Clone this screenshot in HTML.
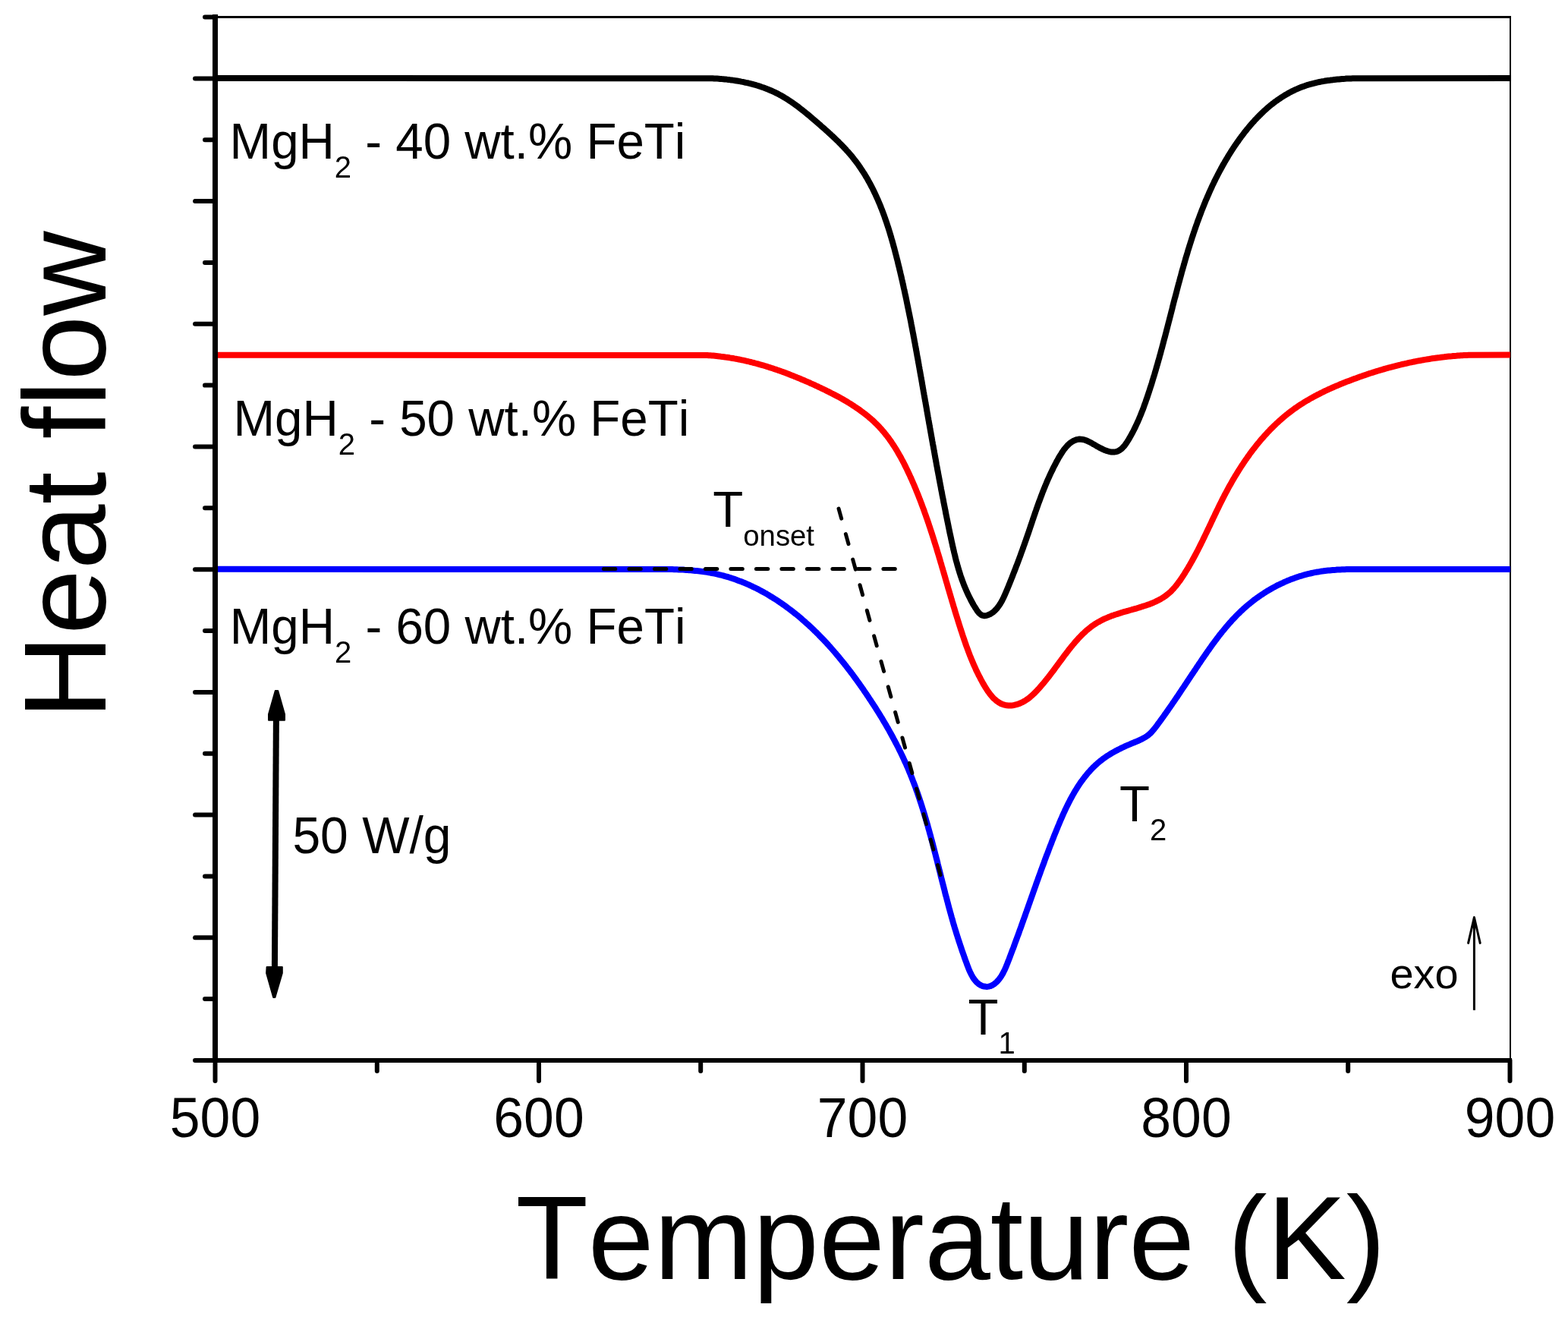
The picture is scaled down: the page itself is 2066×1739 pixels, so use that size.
<!DOCTYPE html>
<html><head><meta charset="utf-8"><title>DSC Heat flow vs Temperature</title>
<style>
html,body{margin:0;padding:0;background:#fff;}
body{width:2066px;height:1739px;overflow:hidden;}
svg{display:block;font-family:'Liberation Sans', Arial, Helvetica, sans-serif;font-variant-ligatures:none;font-kerning:none;}
</style></head>
<body>
<svg width="2066" height="1739" viewBox="0 0 2066 1739" xmlns="http://www.w3.org/2000/svg">
<rect width="2066" height="1739" fill="#fff"/>
<!-- frame -->
<line x1="283.5" y1="22.5" x2="1990" y2="22.5" stroke="#000" stroke-width="3"/>
<line x1="1990" y1="21" x2="1990" y2="1397" stroke="#000" stroke-width="2"/>
<!-- curves -->
<g fill="none" stroke-width="8" stroke-linejoin="round">
<path stroke="#000" d="M283.5,103.0 L937.0,103.2 939.0,103.2 941.0,103.4 943.0,103.5 945.0,103.6 947.0,103.7 949.0,103.9 951.0,104.1 953.0,104.2 955.0,104.4 957.0,104.6 959.0,104.9 961.0,105.1 962.9,105.4 964.9,105.6 966.9,105.9 968.9,106.2 970.9,106.5 972.8,106.8 974.8,107.2 976.8,107.6 978.7,107.9 980.7,108.3 982.6,108.8 984.6,109.2 986.5,109.7 988.5,110.1 990.4,110.6 992.4,111.1 994.3,111.7 996.2,112.2 998.1,112.8 1000.0,113.4 1001.9,114.0 1003.8,114.7 1005.7,115.3 1007.6,116.0 1009.5,116.7 1011.3,117.4 1013.2,118.2 1015.0,119.0 1016.9,119.8 1018.7,120.6 1020.5,121.4 1022.3,122.3 1024.1,123.2 1025.9,124.1 1027.6,125.1 1029.4,126.0 1031.1,127.0 1032.8,128.0 1034.6,129.1 1036.3,130.1 1038.0,131.2 1039.6,132.3 1041.3,133.4 1043.0,134.5 1044.6,135.6 1046.2,136.8 1047.9,138.0 1049.5,139.1 1051.1,140.3 1052.7,141.5 1054.3,142.8 1055.8,144.0 1057.4,145.2 1059.0,146.5 1060.5,147.7 1062.1,149.0 1063.6,150.3 1065.2,151.5 1066.7,152.8 1068.2,154.1 1069.8,155.4 1071.3,156.7 1072.8,158.0 1074.3,159.3 1075.8,160.6 1077.4,161.9 1078.9,163.2 1080.4,164.5 1081.9,165.9 1083.4,167.2 1084.9,168.5 1086.4,169.8 1087.9,171.2 1089.4,172.5 1090.9,173.8 1092.3,175.2 1093.8,176.5 1095.3,177.9 1096.8,179.2 1098.2,180.6 1099.7,182.0 1101.1,183.4 1102.6,184.8 1104.0,186.1 1105.4,187.6 1106.8,189.0 1108.2,190.4 1109.6,191.8 1111.0,193.3 1112.4,194.7 1113.8,196.2 1115.1,197.7 1116.4,199.1 1117.8,200.6 1119.1,202.1 1120.4,203.7 1121.7,205.2 1123.0,206.7 1124.2,208.3 1125.5,209.9 1126.7,211.4 1127.9,213.0 1129.1,214.6 1130.3,216.2 1131.4,217.9 1132.6,219.5 1133.7,221.2 1134.8,222.8 1135.9,224.5 1137.0,226.2 1138.1,227.8 1139.2,229.5 1140.2,231.2 1141.2,233.0 1142.3,234.7 1143.3,236.4 1144.2,238.2 1145.2,239.9 1146.2,241.7 1147.1,243.4 1148.0,245.2 1149.0,247.0 1149.9,248.8 1150.8,250.6 1151.6,252.3 1152.5,254.2 1153.4,256.0 1154.2,257.8 1155.0,259.6 1155.8,261.4 1156.7,263.3 1157.4,265.1 1158.2,266.9 1159.0,268.8 1159.8,270.6 1160.5,272.5 1161.2,274.3 1162.0,276.2 1162.7,278.1 1163.4,279.9 1164.1,281.8 1164.8,283.7 1165.5,285.6 1166.1,287.5 1166.8,289.4 1167.4,291.2 1168.1,293.1 1168.7,295.0 1169.3,296.9 1170.0,298.8 1170.6,300.7 1171.2,302.7 1171.8,304.6 1172.4,306.5 1172.9,308.4 1173.5,310.3 1174.1,312.2 1174.6,314.1 1175.2,316.1 1175.7,318.0 1176.3,319.9 1176.8,321.8 1177.3,323.8 1177.9,325.7 1178.4,327.6 1178.9,329.6 1179.4,331.5 1179.9,333.4 1180.4,335.4 1180.9,337.3 1181.4,339.3 1181.9,341.2 1182.4,343.1 1182.9,345.1 1183.3,347.0 1183.8,349.0 1184.3,350.9 1184.8,352.8 1185.2,354.8 1185.7,356.7 1186.2,358.7 1186.6,360.6 1187.1,362.6 1187.5,364.5 1188.0,366.5 1188.4,368.4 1188.9,370.4 1189.3,372.3 1189.7,374.3 1190.2,376.2 1190.6,378.2 1191.0,380.1 1191.5,382.1 1191.9,384.0 1192.3,386.0 1192.7,388.0 1193.2,389.9 1193.6,391.9 1194.0,393.8 1194.4,395.8 1194.8,397.7 1195.2,399.7 1195.6,401.7 1196.0,403.6 1196.4,405.6 1196.8,407.5 1197.2,409.5 1197.6,411.5 1198.0,413.4 1198.4,415.4 1198.8,417.3 1199.2,419.3 1199.6,421.3 1200.0,423.2 1200.4,425.2 1200.7,427.2 1201.1,429.1 1201.5,431.1 1201.9,433.1 1202.2,435.0 1202.6,437.0 1203.0,439.0 1203.4,440.9 1203.7,442.9 1204.1,444.8 1204.5,446.8 1204.8,448.8 1205.2,450.7 1205.6,452.7 1205.9,454.7 1206.3,456.6 1206.7,458.6 1207.0,460.6 1207.4,462.6 1207.7,464.5 1208.1,466.5 1208.4,468.5 1208.8,470.4 1209.2,472.4 1209.5,474.4 1209.9,476.3 1210.2,478.3 1210.6,480.3 1210.9,482.2 1211.3,484.2 1211.6,486.2 1212.0,488.2 1212.3,490.1 1212.7,492.1 1213.0,494.1 1213.4,496.0 1213.7,498.0 1214.1,500.0 1214.4,501.9 1214.8,503.9 1215.1,505.9 1215.4,507.8 1215.8,509.8 1216.1,511.8 1216.5,513.8 1216.8,515.7 1217.2,517.7 1217.5,519.7 1217.9,521.6 1218.2,523.6 1218.6,525.6 1218.9,527.6 1219.3,529.5 1219.6,531.5 1220.0,533.5 1220.3,535.4 1220.7,537.4 1221.0,539.4 1221.3,541.3 1221.7,543.3 1222.0,545.3 1222.4,547.3 1222.7,549.2 1223.1,551.2 1223.4,553.2 1223.8,555.1 1224.1,557.1 1224.5,559.1 1224.8,561.0 1225.2,563.0 1225.5,565.0 1225.9,567.0 1226.2,568.9 1226.6,570.9 1226.9,572.9 1227.3,574.8 1227.6,576.8 1228.0,578.8 1228.3,580.7 1228.7,582.7 1229.0,584.7 1229.4,586.6 1229.8,588.6 1230.1,590.6 1230.5,592.5 1230.8,594.5 1231.2,596.5 1231.5,598.5 1231.9,600.4 1232.2,602.4 1232.6,604.4 1233.0,606.3 1233.3,608.3 1233.7,610.3 1234.0,612.2 1234.4,614.2 1234.8,616.2 1235.1,618.1 1235.5,620.1 1235.9,622.1 1236.2,624.0 1236.6,626.0 1237.0,628.0 1237.3,629.9 1237.7,631.9 1238.1,633.9 1238.4,635.8 1238.8,637.8 1239.2,639.8 1239.6,641.7 1239.9,643.7 1240.3,645.7 1240.7,647.6 1241.1,649.6 1241.4,651.6 1241.8,653.5 1242.2,655.5 1242.6,657.4 1243.0,659.4 1243.3,661.4 1243.7,663.3 1244.1,665.3 1244.5,667.3 1244.9,669.2 1245.3,671.2 1245.7,673.1 1246.0,675.1 1246.4,677.1 1246.8,679.0 1247.2,681.0 1247.6,683.0 1248.0,684.9 1248.4,686.9 1248.8,688.8 1249.2,690.8 1249.6,692.8 1250.0,694.7 1250.4,696.7 1250.8,698.6 1251.2,700.6 1251.6,702.6 1252.0,704.5 1252.5,706.5 1252.9,708.4 1253.3,710.4 1253.7,712.3 1254.1,714.3 1254.6,716.2 1255.0,718.2 1255.4,720.2 1255.9,722.1 1256.3,724.1 1256.8,726.0 1257.2,727.9 1257.7,729.9 1258.2,731.8 1258.6,733.8 1259.1,735.7 1259.6,737.7 1260.1,739.6 1260.7,741.5 1261.2,743.5 1261.7,745.4 1262.3,747.3 1262.8,749.2 1263.4,751.1 1264.0,753.0 1264.6,755.0 1265.2,756.9 1265.8,758.8 1266.5,760.7 1267.1,762.5 1267.8,764.4 1268.5,766.3 1269.2,768.2 1269.9,770.1 1270.6,771.9 1271.4,773.8 1272.2,775.6 1273.0,777.5 1273.8,779.3 1274.6,781.1 1275.4,782.9 1276.3,784.7 1277.2,786.5 1278.1,788.3 1279.0,790.1 1279.9,791.9 1280.9,793.6 1281.8,795.4 1282.8,797.1 1283.9,798.8 1284.9,800.5 1286.0,802.2 1287.1,803.9 1288.2,805.5 1289.5,807.1 1290.9,808.5 1292.4,809.7 1294.2,810.7 1296.2,811.2 1298.1,811.2 1300.1,810.8 1302.0,810.2 1303.8,809.4 1305.6,808.4 1307.3,807.4 1308.9,806.2 1310.4,804.8 1311.8,803.4 1313.2,802.0 1314.4,800.4 1315.6,798.8 1316.8,797.2 1317.9,795.5 1318.9,793.8 1319.9,792.0 1320.8,790.3 1321.7,788.5 1322.6,786.7 1323.4,784.9 1324.2,783.1 1325.0,781.2 1325.8,779.4 1326.6,777.5 1327.4,775.7 1328.1,773.8 1328.9,772.0 1329.6,770.1 1330.4,768.3 1331.1,766.4 1331.9,764.6 1332.6,762.7 1333.4,760.8 1334.1,759.0 1334.8,757.1 1335.5,755.3 1336.3,753.4 1337.0,751.5 1337.7,749.7 1338.4,747.8 1339.1,745.9 1339.9,744.1 1340.6,742.2 1341.3,740.3 1342.0,738.4 1342.7,736.6 1343.4,734.7 1344.1,732.8 1344.8,730.9 1345.4,729.1 1346.1,727.2 1346.8,725.3 1347.5,723.4 1348.2,721.5 1348.8,719.6 1349.5,717.8 1350.2,715.9 1350.8,714.0 1351.5,712.1 1352.2,710.2 1352.8,708.3 1353.5,706.4 1354.1,704.5 1354.8,702.7 1355.4,700.8 1356.1,698.9 1356.7,697.0 1357.3,695.1 1358.0,693.2 1358.6,691.3 1359.3,689.4 1359.9,687.5 1360.5,685.6 1361.2,683.7 1361.8,681.8 1362.5,679.9 1363.1,678.0 1363.8,676.1 1364.4,674.2 1365.1,672.3 1365.7,670.5 1366.4,668.6 1367.1,666.7 1367.7,664.8 1368.4,662.9 1369.1,661.0 1369.8,659.2 1370.5,657.3 1371.2,655.4 1371.9,653.5 1372.6,651.7 1373.3,649.8 1374.0,647.9 1374.8,646.1 1375.5,644.2 1376.3,642.4 1377.0,640.5 1377.8,638.7 1378.6,636.8 1379.3,635.0 1380.1,633.1 1380.9,631.3 1381.8,629.5 1382.6,627.7 1383.4,625.8 1384.3,624.0 1385.1,622.2 1386.0,620.4 1386.9,618.6 1387.7,616.8 1388.6,615.0 1389.5,613.3 1390.5,611.5 1391.4,609.7 1392.3,607.9 1393.3,606.2 1394.3,604.4 1395.2,602.7 1396.3,601.0 1397.3,599.3 1398.4,597.6 1399.4,595.9 1400.6,594.2 1401.7,592.6 1403.0,591.0 1404.2,589.5 1405.5,588.0 1406.9,586.5 1408.4,585.1 1409.9,583.8 1411.5,582.6 1413.2,581.5 1414.9,580.6 1416.7,579.8 1418.7,579.2 1420.6,578.8 1422.6,578.6 1424.6,578.7 1426.6,579.0 1428.5,579.4 1430.4,580.0 1432.3,580.8 1434.1,581.6 1435.9,582.5 1437.7,583.4 1439.4,584.4 1441.2,585.4 1442.9,586.4 1444.6,587.4 1446.4,588.4 1448.1,589.4 1449.9,590.3 1451.7,591.2 1453.5,592.1 1455.3,592.9 1457.2,593.6 1459.1,594.2 1461.0,594.8 1462.9,595.2 1464.9,595.5 1466.9,595.5 1468.9,595.4 1470.9,595.1 1472.8,594.4 1474.6,593.5 1476.2,592.4 1477.8,591.2 1479.2,589.8 1480.6,588.3 1481.9,586.8 1483.1,585.2 1484.2,583.6 1485.3,581.9 1486.4,580.2 1487.4,578.5 1488.4,576.7 1489.4,575.0 1490.4,573.3 1491.3,571.5 1492.3,569.7 1493.2,568.0 1494.1,566.2 1495.0,564.4 1495.9,562.6 1496.7,560.8 1497.6,559.0 1498.4,557.2 1499.3,555.3 1500.1,553.5 1500.9,551.7 1501.6,549.8 1502.4,548.0 1503.2,546.1 1503.9,544.3 1504.6,542.4 1505.4,540.5 1506.1,538.7 1506.8,536.8 1507.5,534.9 1508.1,533.0 1508.8,531.2 1509.5,529.3 1510.1,527.4 1510.8,525.5 1511.5,523.6 1512.1,521.7 1512.7,519.8 1513.4,517.9 1514.0,516.0 1514.6,514.1 1515.2,512.2 1515.8,510.3 1516.5,508.4 1517.1,506.5 1517.7,504.6 1518.2,502.7 1518.8,500.8 1519.4,498.9 1520.0,496.9 1520.6,495.0 1521.2,493.1 1521.7,491.2 1522.3,489.3 1522.9,487.4 1523.4,485.4 1524.0,483.5 1524.5,481.6 1525.1,479.7 1525.6,477.7 1526.2,475.8 1526.7,473.9 1527.3,472.0 1527.8,470.0 1528.3,468.1 1528.9,466.2 1529.4,464.2 1529.9,462.3 1530.4,460.4 1531.0,458.5 1531.5,456.5 1532.0,454.6 1532.5,452.7 1533.0,450.7 1533.5,448.8 1534.0,446.9 1534.6,444.9 1535.1,443.0 1535.6,441.1 1536.1,439.1 1536.6,437.2 1537.1,435.2 1537.6,433.3 1538.1,431.4 1538.6,429.4 1539.1,427.5 1539.6,425.6 1540.1,423.6 1540.6,421.7 1541.1,419.7 1541.6,417.8 1542.1,415.9 1542.6,413.9 1543.1,412.0 1543.6,410.1 1544.1,408.1 1544.6,406.2 1545.0,404.2 1545.5,402.3 1546.0,400.4 1546.5,398.4 1547.0,396.5 1547.5,394.6 1548.0,392.6 1548.6,390.7 1549.1,388.8 1549.6,386.8 1550.1,384.9 1550.6,382.9 1551.1,381.0 1551.6,379.1 1552.1,377.1 1552.6,375.2 1553.1,373.3 1553.7,371.3 1554.2,369.4 1554.7,367.5 1555.2,365.6 1555.8,363.6 1556.3,361.7 1556.8,359.8 1557.3,357.8 1557.9,355.9 1558.4,354.0 1559.0,352.1 1559.5,350.1 1560.1,348.2 1560.6,346.3 1561.2,344.4 1561.7,342.4 1562.3,340.5 1562.8,338.6 1563.4,336.7 1564.0,334.8 1564.6,332.9 1565.1,330.9 1565.7,329.0 1566.3,327.1 1566.9,325.2 1567.5,323.3 1568.1,321.4 1568.7,319.5 1569.3,317.6 1569.9,315.7 1570.5,313.8 1571.1,311.9 1571.8,310.0 1572.4,308.1 1573.0,306.2 1573.7,304.3 1574.3,302.4 1575.0,300.5 1575.6,298.6 1576.3,296.7 1577.0,294.8 1577.6,292.9 1578.3,291.0 1579.0,289.2 1579.7,287.3 1580.4,285.4 1581.1,283.5 1581.8,281.7 1582.5,279.8 1583.2,277.9 1583.9,276.1 1584.7,274.2 1585.4,272.4 1586.2,270.5 1586.9,268.6 1587.7,266.8 1588.4,264.9 1589.2,263.1 1590.0,261.3 1590.8,259.4 1591.6,257.6 1592.4,255.8 1593.2,253.9 1594.0,252.1 1594.8,250.3 1595.7,248.5 1596.5,246.6 1597.3,244.8 1598.2,243.0 1599.1,241.2 1599.9,239.4 1600.8,237.6 1601.7,235.8 1602.6,234.0 1603.5,232.3 1604.4,230.5 1605.3,228.7 1606.3,226.9 1607.2,225.2 1608.2,223.4 1609.1,221.6 1610.1,219.9 1611.0,218.1 1612.0,216.4 1613.0,214.7 1614.0,212.9 1615.0,211.2 1616.0,209.5 1617.1,207.8 1618.1,206.0 1619.1,204.3 1620.2,202.6 1621.3,200.9 1622.3,199.2 1623.4,197.6 1624.5,195.9 1625.6,194.2 1626.7,192.6 1627.8,190.9 1629.0,189.2 1630.1,187.6 1631.3,186.0 1632.4,184.3 1633.6,182.7 1634.8,181.1 1635.9,179.5 1637.2,177.9 1638.4,176.3 1639.6,174.7 1640.8,173.1 1642.1,171.6 1643.3,170.0 1644.6,168.5 1645.9,166.9 1647.2,165.4 1648.5,163.9 1649.8,162.4 1651.1,160.9 1652.5,159.4 1653.8,157.9 1655.2,156.5 1656.6,155.0 1658.0,153.6 1659.4,152.2 1660.8,150.8 1662.2,149.4 1663.7,148.0 1665.1,146.6 1666.6,145.3 1668.1,143.9 1669.6,142.6 1671.1,141.3 1672.6,140.0 1674.2,138.7 1675.7,137.5 1677.3,136.3 1678.9,135.0 1680.5,133.8 1682.1,132.7 1683.7,131.5 1685.4,130.4 1687.1,129.2 1688.7,128.1 1690.4,127.1 1692.1,126.0 1693.8,125.0 1695.6,124.0 1697.3,123.0 1699.0,122.0 1700.8,121.1 1702.6,120.2 1704.4,119.3 1706.2,118.4 1708.0,117.6 1709.8,116.8 1711.7,116.0 1713.5,115.3 1715.4,114.5 1717.3,113.9 1719.2,113.2 1721.1,112.5 1723.0,111.9 1724.9,111.4 1726.8,110.8 1728.7,110.3 1730.7,109.8 1732.6,109.3 1734.6,108.8 1736.5,108.4 1738.5,108.0 1740.4,107.6 1742.4,107.2 1744.4,106.9 1746.3,106.5 1748.3,106.2 1750.3,105.9 1752.3,105.7 1754.3,105.4 1756.2,105.2 1758.2,104.9 1760.2,104.7 1762.2,104.5 1764.2,104.4 1766.2,104.2 1768.2,104.0 1770.2,103.9 1772.2,103.8 1774.2,103.6 1776.2,103.5 1778.2,103.4 1780.2,103.4 1782.2,103.3 1784.2,103.2 1786.2,103.2 1990.0,103.0"/>
<path stroke="#ff0000" d="M283.5,467.7 L931.9,468.0 933.9,468.2 935.9,468.3 937.9,468.4 939.9,468.6 941.9,468.8 943.9,469.0 945.9,469.2 947.9,469.4 949.9,469.7 951.8,469.9 953.8,470.2 955.8,470.5 957.8,470.7 959.8,471.0 961.7,471.4 963.7,471.7 965.7,472.0 967.7,472.4 969.6,472.7 971.6,473.1 973.6,473.5 975.5,473.9 977.5,474.3 979.4,474.7 981.4,475.1 983.4,475.6 985.3,476.0 987.2,476.5 989.2,477.0 991.1,477.5 993.1,478.0 995.0,478.5 996.9,479.0 998.9,479.5 1000.8,480.1 1002.7,480.6 1004.6,481.2 1006.6,481.7 1008.5,482.3 1010.4,482.9 1012.3,483.5 1014.2,484.1 1016.1,484.7 1018.0,485.3 1019.9,486.0 1021.8,486.6 1023.7,487.3 1025.6,487.9 1027.5,488.6 1029.4,489.3 1031.3,489.9 1033.1,490.6 1035.0,491.3 1036.9,492.0 1038.8,492.7 1040.6,493.5 1042.5,494.2 1044.4,494.9 1046.2,495.7 1048.1,496.4 1049.9,497.2 1051.8,497.9 1053.6,498.7 1055.5,499.5 1057.3,500.3 1059.2,501.0 1061.0,501.8 1062.8,502.6 1064.7,503.4 1066.5,504.2 1068.3,505.1 1070.2,505.9 1072.0,506.7 1073.8,507.5 1075.6,508.4 1077.4,509.2 1079.2,510.1 1081.1,510.9 1082.9,511.8 1084.7,512.6 1086.5,513.5 1088.3,514.4 1090.1,515.3 1091.9,516.2 1093.7,517.1 1095.4,518.0 1097.2,518.9 1099.0,519.8 1100.8,520.7 1102.5,521.7 1104.3,522.6 1106.1,523.6 1107.8,524.5 1109.6,525.5 1111.3,526.5 1113.0,527.5 1114.8,528.5 1116.5,529.5 1118.2,530.6 1119.9,531.6 1121.6,532.7 1123.3,533.8 1125.0,534.9 1126.6,536.0 1128.3,537.1 1129.9,538.2 1131.6,539.3 1133.2,540.5 1134.8,541.7 1136.5,542.9 1138.0,544.1 1139.6,545.3 1141.2,546.5 1142.8,547.8 1144.3,549.1 1145.8,550.4 1147.4,551.7 1148.9,553.0 1150.3,554.3 1151.8,555.7 1153.2,557.1 1154.7,558.5 1156.1,559.9 1157.5,561.3 1158.9,562.8 1160.2,564.3 1161.6,565.8 1162.9,567.3 1164.2,568.8 1165.4,570.3 1166.7,571.9 1167.9,573.5 1169.2,575.0 1170.4,576.6 1171.6,578.3 1172.7,579.9 1173.9,581.5 1175.0,583.2 1176.1,584.8 1177.2,586.5 1178.3,588.2 1179.4,589.9 1180.5,591.6 1181.5,593.3 1182.5,595.0 1183.5,596.7 1184.5,598.5 1185.5,600.2 1186.5,601.9 1187.5,603.7 1188.4,605.5 1189.3,607.2 1190.3,609.0 1191.2,610.8 1192.1,612.6 1193.0,614.4 1193.9,616.2 1194.8,618.0 1195.6,619.8 1196.5,621.6 1197.3,623.4 1198.2,625.2 1199.0,627.0 1199.8,628.8 1200.7,630.7 1201.5,632.5 1202.3,634.3 1203.1,636.2 1203.9,638.0 1204.7,639.8 1205.4,641.7 1206.2,643.5 1207.0,645.4 1207.7,647.2 1208.5,649.1 1209.2,650.9 1210.0,652.8 1210.7,654.7 1211.4,656.5 1212.2,658.4 1212.9,660.3 1213.6,662.1 1214.3,664.0 1215.0,665.9 1215.7,667.8 1216.4,669.6 1217.1,671.5 1217.8,673.4 1218.4,675.3 1219.1,677.2 1219.8,679.1 1220.4,680.9 1221.1,682.8 1221.8,684.7 1222.4,686.6 1223.1,688.5 1223.7,690.4 1224.3,692.3 1225.0,694.2 1225.6,696.1 1226.2,698.0 1226.8,699.9 1227.5,701.8 1228.1,703.7 1228.7,705.6 1229.3,707.5 1229.9,709.4 1230.5,711.4 1231.1,713.3 1231.7,715.2 1232.3,717.1 1232.9,719.0 1233.5,720.9 1234.1,722.8 1234.6,724.7 1235.2,726.7 1235.8,728.6 1236.4,730.5 1237.0,732.4 1237.5,734.3 1238.1,736.2 1238.7,738.2 1239.2,740.1 1239.8,742.0 1240.4,743.9 1240.9,745.8 1241.5,747.8 1242.1,749.7 1242.6,751.6 1243.2,753.5 1243.7,755.4 1244.3,757.4 1244.9,759.3 1245.4,761.2 1246.0,763.1 1246.5,765.1 1247.1,767.0 1247.7,768.9 1248.2,770.8 1248.8,772.7 1249.3,774.7 1249.9,776.6 1250.5,778.5 1251.0,780.4 1251.6,782.4 1252.2,784.3 1252.7,786.2 1253.3,788.1 1253.9,790.0 1254.4,792.0 1255.0,793.9 1255.6,795.8 1256.1,797.7 1256.7,799.6 1257.3,801.5 1257.9,803.5 1258.4,805.4 1259.0,807.3 1259.6,809.2 1260.2,811.1 1260.8,813.0 1261.4,814.9 1262.0,816.9 1262.6,818.8 1263.2,820.7 1263.8,822.6 1264.4,824.5 1265.0,826.4 1265.6,828.3 1266.2,830.2 1266.9,832.1 1267.5,834.0 1268.1,835.9 1268.7,837.8 1269.4,839.7 1270.0,841.6 1270.7,843.5 1271.3,845.4 1272.0,847.3 1272.6,849.2 1273.3,851.1 1274.0,852.9 1274.7,854.8 1275.4,856.7 1276.1,858.6 1276.8,860.4 1277.5,862.3 1278.2,864.2 1279.0,866.0 1279.7,867.9 1280.5,869.7 1281.3,871.6 1282.1,873.4 1282.8,875.3 1283.7,877.1 1284.5,878.9 1285.3,880.7 1286.1,882.6 1287.0,884.4 1287.9,886.2 1288.8,888.0 1289.6,889.8 1290.6,891.5 1291.5,893.3 1292.4,895.1 1293.4,896.9 1294.3,898.6 1295.3,900.4 1296.3,902.1 1297.3,903.8 1298.3,905.5 1299.4,907.2 1300.5,908.9 1301.6,910.6 1302.8,912.2 1304.0,913.8 1305.2,915.4 1306.5,916.9 1307.8,918.4 1309.2,919.9 1310.7,921.2 1312.2,922.6 1313.7,923.8 1315.4,925.0 1317.1,926.0 1318.8,927.0 1320.7,927.8 1322.6,928.4 1324.5,928.9 1326.5,929.3 1328.5,929.4 1330.5,929.5 1332.5,929.4 1334.5,929.2 1336.4,928.9 1338.4,928.4 1340.3,927.9 1342.2,927.3 1344.1,926.5 1345.9,925.7 1347.7,924.8 1349.4,923.9 1351.2,922.8 1352.8,921.7 1354.5,920.6 1356.1,919.3 1357.6,918.1 1359.1,916.8 1360.6,915.4 1362.1,914.1 1363.5,912.7 1364.9,911.2 1366.3,909.8 1367.7,908.3 1369.0,906.9 1370.3,905.4 1371.6,903.8 1373.0,902.3 1374.2,900.8 1375.5,899.3 1376.8,897.7 1378.1,896.2 1379.3,894.6 1380.6,893.0 1381.8,891.5 1383.0,889.9 1384.2,888.3 1385.4,886.7 1386.7,885.1 1387.9,883.5 1389.1,881.9 1390.2,880.3 1391.4,878.7 1392.6,877.1 1393.8,875.5 1395.0,873.8 1396.2,872.2 1397.4,870.6 1398.6,869.0 1399.8,867.4 1400.9,865.8 1402.1,864.2 1403.3,862.6 1404.6,861.0 1405.8,859.4 1407.0,857.8 1408.2,856.2 1409.5,854.7 1410.7,853.1 1412.0,851.5 1413.2,850.0 1414.5,848.5 1415.8,846.9 1417.1,845.4 1418.4,843.9 1419.8,842.4 1421.1,840.9 1422.5,839.5 1423.9,838.0 1425.3,836.6 1426.7,835.2 1428.2,833.8 1429.6,832.5 1431.1,831.1 1432.6,829.8 1434.2,828.5 1435.7,827.3 1437.3,826.0 1438.9,824.8 1440.5,823.7 1442.2,822.5 1443.9,821.5 1445.6,820.4 1447.3,819.4 1449.1,818.4 1450.8,817.5 1452.6,816.6 1454.4,815.7 1456.2,814.9 1458.1,814.1 1459.9,813.3 1461.8,812.6 1463.6,811.8 1465.5,811.1 1467.4,810.5 1469.3,809.8 1471.2,809.2 1473.1,808.6 1475.0,808.0 1476.9,807.4 1478.8,806.8 1480.8,806.2 1482.7,805.7 1484.6,805.1 1486.5,804.6 1488.5,804.0 1490.4,803.5 1492.3,802.9 1494.2,802.4 1496.2,801.8 1498.1,801.3 1500.0,800.7 1501.9,800.1 1503.8,799.5 1505.7,798.9 1507.6,798.3 1509.5,797.7 1511.4,797.0 1513.3,796.4 1515.2,795.7 1517.1,794.9 1518.9,794.2 1520.8,793.4 1522.6,792.6 1524.4,791.7 1526.2,790.8 1527.9,789.9 1529.7,788.9 1531.4,787.9 1533.1,786.8 1534.8,785.7 1536.4,784.5 1538.0,783.3 1539.5,782.0 1541.0,780.7 1542.5,779.4 1543.9,777.9 1545.3,776.5 1546.7,775.0 1548.0,773.5 1549.3,772.0 1550.5,770.4 1551.7,768.8 1552.9,767.2 1554.1,765.6 1555.3,764.0 1556.4,762.3 1557.5,760.7 1558.6,759.0 1559.7,757.3 1560.8,755.6 1561.8,753.9 1562.9,752.2 1563.9,750.5 1565.0,748.8 1566.0,747.1 1567.0,745.4 1568.0,743.6 1569.0,741.9 1570.0,740.1 1571.0,738.4 1571.9,736.6 1572.9,734.9 1573.8,733.1 1574.8,731.4 1575.7,729.6 1576.7,727.8 1577.6,726.0 1578.5,724.3 1579.4,722.5 1580.3,720.7 1581.2,718.9 1582.1,717.1 1583.0,715.3 1583.9,713.5 1584.8,711.7 1585.6,709.9 1586.5,708.1 1587.4,706.3 1588.2,704.5 1589.1,702.7 1590.0,700.9 1590.8,699.1 1591.7,697.3 1592.5,695.5 1593.4,693.7 1594.3,691.9 1595.1,690.1 1596.0,688.2 1596.8,686.4 1597.7,684.6 1598.5,682.8 1599.4,681.0 1600.3,679.2 1601.1,677.4 1602.0,675.6 1602.8,673.8 1603.7,672.0 1604.6,670.2 1605.5,668.4 1606.3,666.6 1607.2,664.8 1608.1,663.0 1609.0,661.2 1609.9,659.4 1610.8,657.6 1611.7,655.8 1612.6,654.1 1613.5,652.3 1614.5,650.5 1615.4,648.7 1616.4,647.0 1617.3,645.2 1618.3,643.4 1619.2,641.7 1620.2,639.9 1621.2,638.2 1622.2,636.5 1623.1,634.7 1624.1,633.0 1625.2,631.2 1626.2,629.5 1627.2,627.8 1628.2,626.1 1629.3,624.4 1630.3,622.7 1631.4,621.0 1632.4,619.3 1633.5,617.6 1634.6,615.9 1635.7,614.2 1636.8,612.5 1637.9,610.9 1639.0,609.2 1640.1,607.6 1641.2,605.9 1642.4,604.3 1643.5,602.6 1644.7,601.0 1645.9,599.4 1647.0,597.7 1648.2,596.1 1649.4,594.5 1650.6,592.9 1651.8,591.3 1653.1,589.8 1654.3,588.2 1655.6,586.6 1656.8,585.1 1658.1,583.5 1659.4,582.0 1660.6,580.4 1661.9,578.9 1663.2,577.4 1664.6,575.9 1665.9,574.4 1667.2,572.9 1668.6,571.4 1669.9,570.0 1671.3,568.5 1672.7,567.1 1674.1,565.6 1675.5,564.2 1676.9,562.8 1678.3,561.4 1679.8,560.0 1681.2,558.6 1682.7,557.2 1684.2,555.9 1685.6,554.5 1687.1,553.2 1688.6,551.9 1690.2,550.6 1691.7,549.3 1693.2,548.0 1694.8,546.7 1696.3,545.5 1697.9,544.2 1699.5,543.0 1701.1,541.8 1702.7,540.6 1704.3,539.4 1705.9,538.2 1707.6,537.1 1709.2,536.0 1710.9,534.8 1712.5,533.7 1714.2,532.6 1715.9,531.6 1717.6,530.5 1719.3,529.4 1721.0,528.4 1722.7,527.4 1724.5,526.4 1726.2,525.4 1727.9,524.4 1729.7,523.4 1731.5,522.5 1733.2,521.5 1735.0,520.6 1736.8,519.7 1738.6,518.8 1740.3,517.9 1742.1,517.0 1743.9,516.1 1745.7,515.2 1747.5,514.4 1749.4,513.5 1751.2,512.7 1753.0,511.9 1754.8,511.0 1756.7,510.2 1758.5,509.4 1760.3,508.6 1762.2,507.9 1764.0,507.1 1765.9,506.3 1767.7,505.6 1769.6,504.8 1771.4,504.1 1773.3,503.3 1775.2,502.6 1777.0,501.9 1778.9,501.2 1780.8,500.5 1782.6,499.8 1784.5,499.1 1786.4,498.4 1788.3,497.7 1790.2,497.0 1792.1,496.3 1793.9,495.7 1795.8,495.0 1797.7,494.4 1799.6,493.7 1801.5,493.1 1803.4,492.4 1805.3,491.8 1807.2,491.2 1809.1,490.6 1811.0,490.0 1813.0,489.4 1814.9,488.8 1816.8,488.2 1818.7,487.6 1820.6,487.1 1822.5,486.5 1824.5,486.0 1826.4,485.4 1828.3,484.9 1830.2,484.3 1832.2,483.8 1834.1,483.3 1836.0,482.8 1838.0,482.3 1839.9,481.8 1841.9,481.3 1843.8,480.8 1845.8,480.4 1847.7,479.9 1849.7,479.5 1851.6,479.0 1853.6,478.6 1855.5,478.1 1857.5,477.7 1859.4,477.3 1861.4,476.9 1863.4,476.5 1865.3,476.1 1867.3,475.7 1869.2,475.3 1871.2,475.0 1873.2,474.6 1875.2,474.3 1877.1,473.9 1879.1,473.6 1881.1,473.3 1883.1,473.0 1885.0,472.6 1887.0,472.3 1889.0,472.1 1891.0,471.8 1893.0,471.5 1894.9,471.2 1896.9,471.0 1898.9,470.7 1900.9,470.5 1902.9,470.3 1904.9,470.0 1906.9,469.8 1908.9,469.6 1910.9,469.4 1912.8,469.3 1914.8,469.1 1916.8,468.9 1918.8,468.8 1920.8,468.6 1922.8,468.5 1924.8,468.3 1926.8,468.2 1928.8,468.1 1930.8,468.0 1932.8,467.9 1934.8,467.8 1990.0,467.6"/>
<path stroke="#0000ff" d="M283.5,749.8 L880.0,750.0 882.0,750.0 884.0,750.1 886.0,750.1 888.0,750.2 890.0,750.2 892.0,750.3 894.0,750.4 896.0,750.5 898.0,750.5 900.0,750.6 902.0,750.8 904.0,750.9 906.0,751.0 908.0,751.2 910.0,751.3 912.0,751.5 914.0,751.7 916.0,751.9 918.0,752.1 920.0,752.3 922.0,752.5 924.0,752.8 925.9,753.0 927.9,753.3 929.9,753.6 931.9,753.9 933.8,754.2 935.8,754.6 937.8,755.0 939.8,755.3 941.7,755.7 943.7,756.2 945.6,756.6 947.6,757.1 949.5,757.5 951.4,758.0 953.4,758.5 955.3,759.1 957.2,759.6 959.2,760.2 961.1,760.8 963.0,761.4 964.9,762.0 966.8,762.6 968.7,763.3 970.6,764.0 972.4,764.7 974.3,765.4 976.2,766.1 978.0,766.8 979.9,767.6 981.7,768.3 983.6,769.1 985.4,769.9 987.2,770.7 989.1,771.6 990.9,772.4 992.7,773.3 994.5,774.1 996.3,775.0 998.1,775.9 999.8,776.8 1001.6,777.8 1003.4,778.7 1005.1,779.7 1006.9,780.6 1008.6,781.6 1010.4,782.6 1012.1,783.6 1013.8,784.7 1015.5,785.7 1017.2,786.7 1018.9,787.8 1020.6,788.9 1022.3,789.9 1024.0,791.0 1025.6,792.1 1027.3,793.3 1029.0,794.4 1030.6,795.5 1032.2,796.7 1033.9,797.8 1035.5,799.0 1037.1,800.2 1038.7,801.4 1040.3,802.6 1041.9,803.8 1043.5,805.0 1045.1,806.2 1046.6,807.5 1048.2,808.7 1049.8,810.0 1051.3,811.2 1052.9,812.5 1054.4,813.8 1055.9,815.1 1057.4,816.4 1058.9,817.7 1060.4,819.0 1061.9,820.4 1063.4,821.7 1064.9,823.0 1066.4,824.4 1067.8,825.8 1069.3,827.1 1070.8,828.5 1072.2,829.9 1073.6,831.3 1075.1,832.7 1076.5,834.1 1077.9,835.5 1079.3,836.9 1080.7,838.4 1082.1,839.8 1083.5,841.2 1084.9,842.7 1086.3,844.1 1087.6,845.6 1089.0,847.1 1090.3,848.5 1091.7,850.0 1093.0,851.5 1094.4,853.0 1095.7,854.5 1097.0,856.0 1098.3,857.5 1099.6,859.0 1100.9,860.5 1102.2,862.1 1103.5,863.6 1104.8,865.1 1106.1,866.7 1107.3,868.2 1108.6,869.8 1109.9,871.3 1111.1,872.9 1112.4,874.4 1113.6,876.0 1114.9,877.6 1116.1,879.2 1117.3,880.7 1118.5,882.3 1119.8,883.9 1121.0,885.5 1122.2,887.1 1123.4,888.7 1124.6,890.3 1125.7,891.9 1126.9,893.5 1128.1,895.1 1129.3,896.8 1130.5,898.4 1131.6,900.0 1132.8,901.6 1133.9,903.3 1135.1,904.9 1136.2,906.6 1137.4,908.2 1138.5,909.9 1139.6,911.5 1140.8,913.2 1141.9,914.8 1143.0,916.5 1144.1,918.1 1145.2,919.8 1146.3,921.5 1147.4,923.1 1148.5,924.8 1149.6,926.5 1150.7,928.2 1151.8,929.8 1152.9,931.5 1154.0,933.2 1155.0,934.9 1156.1,936.6 1157.2,938.3 1158.2,940.0 1159.3,941.7 1160.3,943.4 1161.4,945.1 1162.4,946.8 1163.4,948.5 1164.4,950.3 1165.5,952.0 1166.5,953.7 1167.5,955.4 1168.5,957.2 1169.5,958.9 1170.5,960.6 1171.5,962.4 1172.4,964.1 1173.4,965.9 1174.4,967.6 1175.3,969.4 1176.3,971.1 1177.2,972.9 1178.2,974.7 1179.1,976.4 1180.0,978.2 1181.0,980.0 1181.9,981.8 1182.8,983.5 1183.7,985.3 1184.6,987.1 1185.5,988.9 1186.4,990.7 1187.2,992.5 1188.1,994.3 1189.0,996.1 1189.8,997.9 1190.7,999.7 1191.5,1001.6 1192.3,1003.4 1193.2,1005.2 1194.0,1007.0 1194.8,1008.9 1195.6,1010.7 1196.4,1012.5 1197.2,1014.4 1197.9,1016.2 1198.7,1018.1 1199.5,1019.9 1200.2,1021.8 1201.0,1023.6 1201.7,1025.5 1202.4,1027.3 1203.1,1029.2 1203.9,1031.1 1204.6,1033.0 1205.3,1034.8 1206.0,1036.7 1206.7,1038.6 1207.3,1040.5 1208.0,1042.3 1208.7,1044.2 1209.3,1046.1 1210.0,1048.0 1210.6,1049.9 1211.3,1051.8 1211.9,1053.7 1212.5,1055.6 1213.2,1057.5 1213.8,1059.4 1214.4,1061.3 1215.0,1063.2 1215.6,1065.1 1216.2,1067.0 1216.8,1068.9 1217.4,1070.9 1218.0,1072.8 1218.5,1074.7 1219.1,1076.6 1219.7,1078.5 1220.2,1080.4 1220.8,1082.4 1221.4,1084.3 1221.9,1086.2 1222.5,1088.1 1223.0,1090.1 1223.5,1092.0 1224.1,1093.9 1224.6,1095.8 1225.1,1097.8 1225.7,1099.7 1226.2,1101.6 1226.7,1103.6 1227.2,1105.5 1227.8,1107.4 1228.3,1109.4 1228.8,1111.3 1229.3,1113.2 1229.8,1115.2 1230.3,1117.1 1230.8,1119.0 1231.3,1121.0 1231.8,1122.9 1232.3,1124.9 1232.8,1126.8 1233.3,1128.7 1233.8,1130.7 1234.3,1132.6 1234.8,1134.5 1235.3,1136.5 1235.7,1138.4 1236.2,1140.4 1236.7,1142.3 1237.2,1144.2 1237.7,1146.2 1238.2,1148.1 1238.7,1150.1 1239.2,1152.0 1239.6,1154.0 1240.1,1155.9 1240.6,1157.8 1241.1,1159.8 1241.6,1161.7 1242.1,1163.7 1242.6,1165.6 1243.1,1167.5 1243.6,1169.5 1244.1,1171.4 1244.6,1173.4 1245.0,1175.3 1245.5,1177.2 1246.0,1179.2 1246.6,1181.1 1247.1,1183.0 1247.6,1185.0 1248.1,1186.9 1248.6,1188.8 1249.1,1190.8 1249.6,1192.7 1250.1,1194.6 1250.6,1196.6 1251.2,1198.5 1251.7,1200.4 1252.2,1202.4 1252.8,1204.3 1253.3,1206.2 1253.8,1208.1 1254.4,1210.1 1254.9,1212.0 1255.5,1213.9 1256.0,1215.8 1256.6,1217.8 1257.2,1219.7 1257.7,1221.6 1258.3,1223.5 1258.9,1225.4 1259.5,1227.3 1260.1,1229.3 1260.7,1231.2 1261.3,1233.1 1261.9,1235.0 1262.5,1236.9 1263.1,1238.8 1263.7,1240.7 1264.4,1242.6 1265.0,1244.5 1265.6,1246.4 1266.3,1248.3 1266.9,1250.2 1267.5,1252.1 1268.2,1254.0 1268.9,1255.9 1269.5,1257.7 1270.2,1259.6 1270.8,1261.5 1271.5,1263.4 1272.2,1265.3 1272.9,1267.2 1273.6,1269.0 1274.2,1270.9 1275.0,1272.8 1275.7,1274.7 1276.4,1276.5 1277.2,1278.4 1278.0,1280.2 1278.9,1282.0 1279.8,1283.8 1280.7,1285.5 1281.7,1287.3 1282.8,1289.0 1284.0,1290.6 1285.2,1292.2 1286.5,1293.7 1288.0,1295.0 1289.5,1296.3 1291.2,1297.4 1293.0,1298.3 1294.8,1299.1 1296.8,1299.6 1298.8,1299.8 1300.8,1299.9 1302.7,1299.6 1304.7,1299.2 1306.6,1298.4 1308.3,1297.5 1310.0,1296.4 1311.5,1295.2 1313.0,1293.8 1314.4,1292.4 1315.7,1290.9 1317.0,1289.3 1318.1,1287.7 1319.3,1286.0 1320.3,1284.3 1321.3,1282.6 1322.2,1280.8 1323.1,1279.0 1324.0,1277.2 1324.8,1275.4 1325.6,1273.5 1326.3,1271.7 1327.1,1269.8 1327.8,1268.0 1328.5,1266.1 1329.3,1264.2 1330.0,1262.4 1330.7,1260.5 1331.4,1258.6 1332.1,1256.8 1332.8,1254.9 1333.5,1253.0 1334.2,1251.1 1335.0,1249.3 1335.7,1247.4 1336.4,1245.5 1337.0,1243.6 1337.7,1241.8 1338.4,1239.9 1339.1,1238.0 1339.8,1236.1 1340.5,1234.2 1341.2,1232.4 1341.9,1230.5 1342.6,1228.6 1343.2,1226.7 1343.9,1224.8 1344.6,1223.0 1345.3,1221.1 1346.0,1219.2 1346.6,1217.3 1347.3,1215.4 1348.0,1213.5 1348.6,1211.7 1349.3,1209.8 1350.0,1207.9 1350.7,1206.0 1351.3,1204.1 1352.0,1202.2 1352.7,1200.3 1353.3,1198.5 1354.0,1196.6 1354.7,1194.7 1355.3,1192.8 1356.0,1190.9 1356.7,1189.0 1357.3,1187.1 1358.0,1185.3 1358.7,1183.4 1359.3,1181.5 1360.0,1179.6 1360.7,1177.7 1361.3,1175.8 1362.0,1173.9 1362.7,1172.0 1363.3,1170.2 1364.0,1168.3 1364.7,1166.4 1365.3,1164.5 1366.0,1162.6 1366.7,1160.7 1367.4,1158.9 1368.0,1157.0 1368.7,1155.1 1369.4,1153.2 1370.1,1151.3 1370.8,1149.4 1371.4,1147.6 1372.1,1145.7 1372.8,1143.8 1373.5,1141.9 1374.2,1140.0 1374.9,1138.2 1375.6,1136.3 1376.3,1134.4 1376.9,1132.5 1377.6,1130.7 1378.3,1128.8 1379.0,1126.9 1379.8,1125.0 1380.5,1123.2 1381.2,1121.3 1381.9,1119.4 1382.6,1117.6 1383.3,1115.7 1384.0,1113.8 1384.8,1112.0 1385.5,1110.1 1386.2,1108.2 1386.9,1106.4 1387.7,1104.5 1388.4,1102.6 1389.1,1100.8 1389.9,1098.9 1390.6,1097.1 1391.4,1095.2 1392.1,1093.4 1392.9,1091.5 1393.6,1089.7 1394.4,1087.8 1395.2,1086.0 1395.9,1084.1 1396.7,1082.3 1397.5,1080.4 1398.3,1078.6 1399.1,1076.8 1399.9,1074.9 1400.7,1073.1 1401.5,1071.3 1402.4,1069.5 1403.2,1067.6 1404.1,1065.8 1404.9,1064.0 1405.8,1062.2 1406.7,1060.4 1407.6,1058.6 1408.5,1056.8 1409.4,1055.1 1410.3,1053.3 1411.3,1051.5 1412.2,1049.8 1413.2,1048.0 1414.2,1046.3 1415.2,1044.5 1416.2,1042.8 1417.2,1041.1 1418.3,1039.4 1419.3,1037.7 1420.4,1036.0 1421.5,1034.3 1422.6,1032.7 1423.7,1031.0 1424.9,1029.4 1426.1,1027.8 1427.3,1026.2 1428.5,1024.6 1429.7,1023.0 1431.0,1021.4 1432.2,1019.9 1433.5,1018.4 1434.8,1016.9 1436.2,1015.4 1437.5,1013.9 1438.9,1012.5 1440.3,1011.0 1441.8,1009.6 1443.2,1008.3 1444.7,1006.9 1446.2,1005.6 1447.7,1004.3 1449.2,1003.0 1450.8,1001.8 1452.4,1000.5 1454.0,999.3 1455.6,998.2 1457.3,997.0 1458.9,995.9 1460.6,994.9 1462.3,993.8 1464.0,992.8 1465.8,991.7 1467.5,990.8 1469.3,989.8 1471.0,988.8 1472.8,987.9 1474.6,987.0 1476.4,986.1 1478.2,985.2 1480.0,984.4 1481.8,983.5 1483.6,982.7 1485.4,981.9 1487.3,981.1 1489.1,980.3 1490.9,979.5 1492.8,978.8 1494.6,978.0 1496.5,977.2 1498.3,976.5 1500.2,975.7 1502.0,974.8 1503.8,974.0 1505.6,973.1 1507.4,972.1 1509.1,971.1 1510.8,970.0 1512.4,968.9 1514.0,967.6 1515.5,966.3 1516.9,964.9 1518.2,963.4 1519.5,961.9 1520.8,960.4 1522.0,958.8 1523.3,957.2 1524.5,955.6 1525.6,954.0 1526.8,952.4 1528.0,950.8 1529.2,949.1 1530.4,947.5 1531.5,945.9 1532.7,944.3 1533.9,942.7 1535.0,941.0 1536.2,939.4 1537.3,937.8 1538.5,936.1 1539.6,934.5 1540.8,932.8 1541.9,931.2 1543.1,929.5 1544.2,927.9 1545.3,926.2 1546.5,924.6 1547.6,922.9 1548.7,921.3 1549.8,919.6 1551.0,918.0 1552.1,916.3 1553.2,914.7 1554.3,913.0 1555.4,911.3 1556.5,909.7 1557.6,908.0 1558.8,906.3 1559.9,904.7 1561.0,903.0 1562.1,901.3 1563.2,899.7 1564.3,898.0 1565.4,896.3 1566.5,894.7 1567.6,893.0 1568.7,891.3 1569.8,889.7 1570.9,888.0 1572.1,886.4 1573.2,884.7 1574.3,883.0 1575.4,881.4 1576.5,879.7 1577.6,878.0 1578.7,876.4 1579.8,874.7 1581.0,873.1 1582.1,871.4 1583.2,869.7 1584.3,868.1 1585.5,866.4 1586.6,864.8 1587.7,863.1 1588.9,861.5 1590.0,859.8 1591.1,858.2 1592.3,856.6 1593.5,854.9 1594.6,853.3 1595.8,851.7 1596.9,850.0 1598.1,848.4 1599.3,846.8 1600.5,845.2 1601.7,843.6 1602.9,842.0 1604.1,840.4 1605.3,838.8 1606.5,837.2 1607.8,835.7 1609.0,834.1 1610.2,832.5 1611.5,831.0 1612.8,829.4 1614.0,827.9 1615.3,826.3 1616.6,824.8 1617.9,823.3 1619.2,821.8 1620.6,820.3 1621.9,818.8 1623.2,817.3 1624.6,815.8 1626.0,814.4 1627.4,812.9 1628.7,811.5 1630.1,810.1 1631.6,808.7 1633.0,807.3 1634.4,805.9 1635.9,804.5 1637.4,803.1 1638.8,801.8 1640.3,800.5 1641.8,799.1 1643.4,797.8 1644.9,796.5 1646.4,795.3 1648.0,794.0 1649.5,792.8 1651.1,791.5 1652.7,790.3 1654.3,789.1 1655.9,787.9 1657.6,786.8 1659.2,785.6 1660.8,784.5 1662.5,783.4 1664.2,782.3 1665.8,781.2 1667.5,780.1 1669.2,779.0 1670.9,778.0 1672.7,777.0 1674.4,776.0 1676.1,775.0 1677.9,774.0 1679.7,773.1 1681.4,772.1 1683.2,771.2 1685.0,770.3 1686.8,769.5 1688.6,768.6 1690.4,767.8 1692.2,766.9 1694.1,766.1 1695.9,765.3 1697.8,764.6 1699.6,763.8 1701.5,763.1 1703.3,762.4 1705.2,761.7 1707.1,761.0 1709.0,760.4 1710.9,759.8 1712.8,759.1 1714.7,758.6 1716.6,758.0 1718.6,757.4 1720.5,756.9 1722.4,756.4 1724.4,755.9 1726.3,755.5 1728.3,755.0 1730.2,754.6 1732.2,754.2 1734.2,753.8 1736.1,753.5 1738.1,753.2 1740.1,752.8 1742.1,752.6 1744.0,752.3 1746.0,752.0 1748.0,751.8 1750.0,751.6 1752.0,751.4 1754.0,751.2 1756.0,751.0 1758.0,750.9 1760.0,750.8 1762.0,750.6 1764.0,750.5 1766.0,750.4 1768.0,750.3 1770.0,750.2 1772.0,750.2 1774.0,750.1 1776.0,750.1 1778.0,750.0 1780.0,750.0 1782.0,750.0 1784.0,750.0 1786.0,749.9 1788.0,749.9 1790.0,749.9 1990.0,749.9"/>
</g>
<!-- onset construction lines -->
<g stroke="#000" stroke-width="5" stroke-linecap="round" fill="none">
<line x1="795.4" y1="749.5" x2="1179.3" y2="749.5" stroke-dasharray="15.4 18.1"/>
<line x1="1105.04" y1="670.1" x2="1239.1" y2="1152.6" stroke-dasharray="13.5 21.31"/>
</g>
<!-- axes -->
<g stroke="#000" stroke-width="6" stroke-linecap="round">
<line x1="270.0" y1="22.5" x2="283.5" y2="22.5"/><line x1="257.0" y1="103.4" x2="283.5" y2="103.4"/><line x1="270.0" y1="184.2" x2="283.5" y2="184.2"/><line x1="257.0" y1="265.1" x2="283.5" y2="265.1"/><line x1="270.0" y1="345.9" x2="283.5" y2="345.9"/><line x1="257.0" y1="426.8" x2="283.5" y2="426.8"/><line x1="270.0" y1="507.6" x2="283.5" y2="507.6"/><line x1="257.0" y1="588.5" x2="283.5" y2="588.5"/><line x1="270.0" y1="669.3" x2="283.5" y2="669.3"/><line x1="257.0" y1="750.2" x2="283.5" y2="750.2"/><line x1="270.0" y1="831.0" x2="283.5" y2="831.0"/><line x1="257.0" y1="911.9" x2="283.5" y2="911.9"/><line x1="270.0" y1="992.7" x2="283.5" y2="992.7"/><line x1="257.0" y1="1073.6" x2="283.5" y2="1073.6"/><line x1="270.0" y1="1154.4" x2="283.5" y2="1154.4"/><line x1="257.0" y1="1235.3" x2="283.5" y2="1235.3"/><line x1="270.0" y1="1316.1" x2="283.5" y2="1316.1"/><line x1="257.0" y1="1397.0" x2="283.5" y2="1397.0"/><line x1="283.5" y1="1397" x2="283.5" y2="1424.0"/><line x1="496.8" y1="1397" x2="496.8" y2="1411.0"/><line x1="710.0" y1="1397" x2="710.0" y2="1424.0"/><line x1="923.2" y1="1397" x2="923.2" y2="1411.0"/><line x1="1136.5" y1="1397" x2="1136.5" y2="1424.0"/><line x1="1349.8" y1="1397" x2="1349.8" y2="1411.0"/><line x1="1563.0" y1="1397" x2="1563.0" y2="1424.0"/><line x1="1776.2" y1="1397" x2="1776.2" y2="1411.0"/><line x1="1989.5" y1="1397" x2="1989.5" y2="1424.0"/>
</g>
<line x1="283.5" y1="19" x2="283.5" y2="1400" stroke="#000" stroke-width="7"/>
<line x1="280" y1="1397" x2="1992" y2="1397" stroke="#000" stroke-width="6"/>
<!-- tick labels -->
<g fill="#000"><text transform="translate(283.5,1498.0) scale(1,1.040)" font-size="71.5" text-anchor="middle">500</text><text transform="translate(710.0,1498.0) scale(1,1.040)" font-size="71.5" text-anchor="middle">600</text><text transform="translate(1136.5,1498.0) scale(1,1.040)" font-size="71.5" text-anchor="middle">700</text><text transform="translate(1563.0,1498.0) scale(1,1.040)" font-size="71.5" text-anchor="middle">800</text><text transform="translate(1989.5,1498.0) scale(1,1.040)" font-size="71.5" text-anchor="middle">900</text></g>
<!-- axis titles -->
<g fill="#000">
<text x="679.4" y="1684.7" font-size="156.3" style="font-kerning:none">Temperature (K)</text>
<text transform="translate(139,947.4) rotate(-90)" font-size="154.3">Heat flow</text>
</g>
<!-- series labels -->
<g fill="#000">
<text transform="translate(302.6,208.8) scale(1,1.020)" font-size="65.5">MgH<tspan dy="24.6" font-size="40">2</tspan><tspan dy="-24.6"> - 40 wt.% FeTi</tspan></text>
<text transform="translate(307.5,573.9) scale(1,1.020)" font-size="65.5">MgH<tspan dy="24.6" font-size="40">2</tspan><tspan dy="-24.6"> - 50 wt.% FeTi</tspan></text>
<text transform="translate(302.7,848.0) scale(1,1.020)" font-size="65.5">MgH<tspan dy="24.6" font-size="40">2</tspan><tspan dy="-24.6"> - 60 wt.% FeTi</tspan></text>
<text transform="translate(939.3,694.3) scale(1,1.020)" font-size="65.5">T<tspan dy="24.6" font-size="38.3">onset</tspan></text>
<text transform="translate(1275.5,1362.8) scale(1,1.020)" font-size="65.5">T<tspan dy="24.6" font-size="40">1</tspan></text>
<text transform="translate(1475.0,1081.5) scale(1,1.020)" font-size="65.5">T<tspan dy="24.6" font-size="40">2</tspan></text>
<text transform="translate(385.4,1123.6) scale(1,1.030)" font-size="66.0">50 W/g</text>
<text x="1831.4" y="1302.4" font-size="55.9">exo</text>
</g>
<!-- scale double arrow -->
<g stroke="#000" fill="#000" stroke-linejoin="round">
<line x1="363.9" y1="946" x2="361.9" y2="1277" stroke-width="8"/>
<polygon points="362.8,910 366.2,910 375,941 375,948.7 354,948.7 354,941" stroke-width="2"/>
<polygon points="351.6,1274 371.8,1274 371.8,1282 362.4,1313.9 360.2,1313.9 351.1,1282" stroke-width="2"/>
</g>
<!-- exo arrow -->
<g stroke="#000" fill="none" stroke-width="3" stroke-linejoin="round">
<line x1="1942.4" y1="1330.8" x2="1942.4" y2="1214"/>
<polyline points="1934.6,1242.4 1942.4,1208.5 1950.2,1242.4" stroke-linecap="round"/>
<polygon points="1942.4,1209.5 1939.6,1222 1945.2,1222" fill="#000" stroke-width="1"/>
</g>
</svg>
</body></html>
